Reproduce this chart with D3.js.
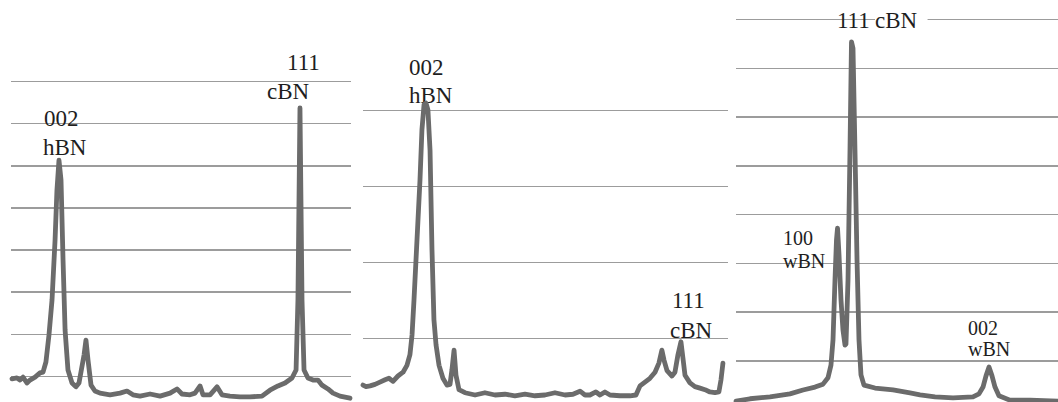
<!DOCTYPE html>
<html>
<head>
<meta charset="utf-8">
<script src="https://cdn.jsdelivr.net/npm/d3@7"></script>
<style>
  html, body { margin: 0; padding: 0; background: #fff; }
  svg { display: block; }
  .grid line { stroke: #9c9c9c; stroke-width: 1.5; shape-rendering: crispEdges; }
  .grid .domain { display: none; }
  .trace { fill: none; stroke: #6b6b6b; stroke-width: 4.8; stroke-linejoin: round; stroke-linecap: round; }
  .peak-label { font-family: "Liberation Serif", "Times New Roman", serif; fill: #1e1e1e; }
</style>
</head>
<body>
<div id="chart"></div>
<script>
// --- data (2θ in degrees, counts) ---
let angles1 = [23.50, 23.84, 24.05, 24.26, 24.53, 24.74, 25.09, 25.43, 25.64, 25.84, 26.05, 26.26, 26.47, 26.60, 26.74, 26.88, 27.02, 27.16, 27.36, 27.64, 27.91, 28.12, 28.47, 28.60, 28.74, 28.95, 29.22, 29.57, 30.26, 30.95, 31.43, 31.84, 32.33, 33.02, 33.71, 34.40, 34.88, 35.22, 35.78, 36.12, 36.47, 36.67, 37.16, 37.64, 37.98, 38.53, 39.22, 39.91, 40.74, 41.29, 41.84, 42.33, 42.81, 43.09, 43.22, 43.36, 43.50, 43.64, 43.91, 44.26, 44.60, 44.88, 45.29, 45.64, 46.12, 46.81];
let counts1 = [93, 95, 90, 97, 83, 90, 97, 107, 109, 133, 197, 280, 423, 541, 612, 565, 375, 209, 114, 83, 74, 83, 150, 185, 138, 78, 64, 59, 55, 59, 64, 55, 52, 57, 52, 59, 69, 57, 55, 59, 76, 55, 55, 74, 55, 52, 50, 50, 52, 66, 76, 83, 95, 114, 280, 736, 280, 114, 95, 90, 90, 78, 69, 59, 52, 47];

let angles2 = [22.60, 22.80, 23.07, 23.40, 23.73, 24.07, 24.33, 24.60, 24.93, 25.27, 25.53, 25.73, 25.87, 26.00, 26.20, 26.40, 26.53, 26.67, 26.80, 26.93, 27.07, 27.20, 27.33, 27.47, 27.67, 27.93, 28.20, 28.40, 28.53, 28.67, 28.80, 29.00, 29.40, 30.07, 30.73, 31.40, 32.07, 32.73, 33.40, 34.07, 34.73, 35.40, 36.07, 36.60, 37.07, 37.40, 37.73, 38.13, 38.40, 38.73, 39.07, 39.73, 40.40, 40.80, 41.07, 41.40, 41.73, 42.07, 42.33, 42.53, 42.67, 42.87, 43.20, 43.40, 43.60, 43.80, 43.93, 44.07, 44.40, 44.73, 45.07, 45.40, 45.73, 46.07, 46.33, 46.47, 46.60];
let counts2 = [38, 36, 37, 39, 42, 45, 47, 43, 50, 55, 64, 78, 104, 150, 229, 308, 374, 407, 409, 400, 347, 216, 124, 91, 64, 47, 38, 39, 58, 84, 51, 32, 28, 25, 28, 25, 26, 24, 26, 24, 25, 28, 25, 26, 30, 25, 25, 29, 25, 29, 25, 24, 24, 25, 37, 42, 47, 55, 67, 84, 71, 57, 50, 55, 78, 95, 74, 51, 41, 36, 34, 32, 29, 28, 29, 45, 67];

let angles3 = [20.00, 22.33, 25.67, 29.00, 31.17, 33.17, 34.50, 35.33, 35.83, 36.17, 36.50, 36.75, 36.92, 37.17, 37.50, 37.83, 38.17, 38.33, 38.67, 39.00, 39.25, 39.50, 39.83, 40.17, 40.50, 40.83, 41.33, 43.17, 46.17, 49.00, 50.67, 53.17, 56.17, 59.50, 60.50, 61.17, 61.67, 62.17, 62.67, 63.17, 63.83, 65.67, 69.00, 73.67];
let counts3 = [16, 21, 25, 31, 39, 45, 51, 64, 90, 142, 265, 347, 371, 316, 224, 162, 131, 133, 265, 531, 753, 740, 531, 306, 142, 70, 49, 43, 39, 33, 29, 25, 23, 25, 31, 45, 68, 86, 68, 45, 27, 18, 18, 16];

let gridTicks1 = [100, 200, 300, 400, 500, 600, 700, 800];
let gridTicks2 = [100, 200, 300, 400];
let gridTicks3 = [100, 200, 300, 400, 500, 600, 700, 800];

let labelText1 = ["002", "hBN", "111", "cBN"];
let labelText2 = ["002", "hBN", "111", "cBN"];
let labelText3 = ["111 ", "cBN", "100", "wBN", "002", "wBN"];

// --- layout ---
const width = 1058, height = 402;

const svg = d3.select("#chart").append("svg")
  .attr("width", width)
  .attr("height", height);

function drawPanel(p) {
  const x = d3.scaleLinear().domain(p.xDomain).range(p.xRange);
  const y = d3.scaleLinear().domain(p.yDomain).range(p.yRange);
  const g = svg.append("g");

  // horizontal gridlines only, no axis text
  g.append("g")
    .attr("class", "grid")
    .attr("transform", `translate(${p.gridLeft},0)`)
    .call(d3.axisLeft(y)
      .tickValues(p.ticks)
      .tickSize(-(p.gridRight - p.gridLeft))
      .tickFormat(""));

  // labels (anchored in data space)
  const labels = g.append("g");
  p.labels.forEach((l) => {
    let t = labels.append("text")
      .attr("class", "peak-label")
      .attr("x", x(l.at[0]))
      .attr("y", y(l.at[1]))
      .style("font-size", l.size + "px")
      .text(l.text);
    if (l.knockout) {
      let b = t.node().getBBox();
      labels.insert("rect", "text:last-child")
        .attr("x", b.x)
        .attr("y", b.y + 2)
        .attr("width", b.width + 10)
        .attr("height", b.height - 4)
        .attr("fill", "#fff");
    }
  });

  let line = d3.line()
    .x((d) => x(d[0]))
    .y((d) => y(d[1]));

  g.append("path")
    .datum(d3.zip(p.angles, p.counts))
    .attr("class", "trace")
    .attr("d", line);
}

drawPanel({
  angles: angles1, counts: counts1, ticks: gridTicks1,
  xDomain: [23.5, 46.81], xRange: [12, 350],
  yDomain: [0, 800], yRange: [418, 81],
  gridLeft: 11, gridRight: 351,
  labels: [
    { text: labelText1[0], at: [25.71, 693], size: 23 },
    { text: labelText1[1], at: [25.64, 624], size: 23 },
    { text: labelText1[2], at: [42.47, 826], size: 23 },
    { text: labelText1[3], at: [41.09, 757], size: 23 }
  ]
});

drawPanel({
  angles: angles2, counts: counts2, ticks: gridTicks2,
  xDomain: [22.6, 46.87], xRange: [363, 727],
  yDomain: [0, 400], yRange: [414, 110],
  gridLeft: 363, gridRight: 728,
  labels: [
    { text: labelText2[0], at: [25.67, 446], size: 23 },
    { text: labelText2[1], at: [25.67, 409], size: 23 },
    { text: labelText2[2], at: [43.20, 139], size: 23 },
    { text: labelText2[3], at: [43.07, 100], size: 23 }
  ]
});

drawPanel({
  angles: angles3, counts: counts3, ticks: gridTicks3,
  xDomain: [20, 73.67], xRange: [736, 1058],
  yDomain: [0, 800], yRange: [409, 19],
  gridLeft: 736, gridRight: 1058,
  labels: [
    { text: labelText3[0], at: [36.83, 781], size: 23 },
    { text: labelText3[1], at: [43.17, 781], size: 23, knockout: true },
    { text: labelText3[2], at: [27.83, 336], size: 20 },
    { text: labelText3[3], at: [27.83, 289], size: 20 },
    { text: labelText3[4], at: [58.67, 152], size: 20 },
    { text: labelText3[5], at: [58.67, 109], size: 20 }
  ]
});
</script>
</body>
</html>
